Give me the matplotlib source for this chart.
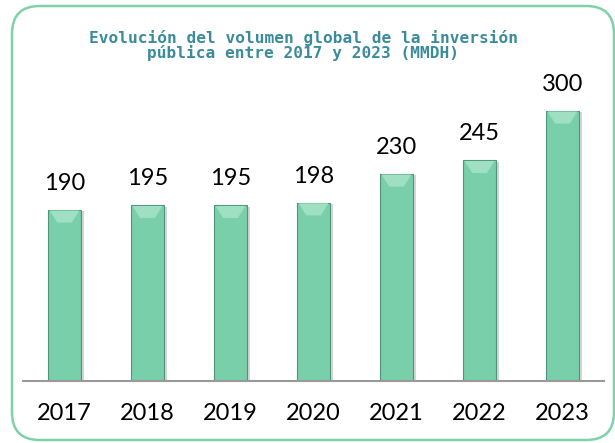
import matplotlib.pyplot as plt
from matplotlib.patches import FancyBboxPatch, Polygon
import matplotlib.patheffects as pe

# Data
years = ["2017", "2018", "2019", "2020", "2021", "2022", "2023"]
values = [190, 195, 195, 198, 230, 245, 300]

title = "Evolución del volumen global de la inversión\npública entre 2017 y 2023 (MMDH)"

fig = plt.figure(figsize=(6.15, 4.43), dpi=100)

# rounded frame round the whole chart
frame = FancyBboxPatch(
    (12 / 615, 3 / 443), 602 / 615, 434 / 443,
    boxstyle="round,pad=0,rounding_size=0.045",
    transform=fig.transFigure,
    facecolor="white", edgecolor="#7dd3a8", linewidth=1.8,
    mutation_aspect=615 / 443, zorder=-5,
)
fig.patches.append(frame)

ax = fig.add_axes([23 / 615, 62 / 443, 581 / 615, 306 / 443])
ax.set_facecolor("none")
ax.set_zorder(2)

x = range(len(years))
bars = ax.bar(
    x, values, width=0.4,
    color="#78cfa9", edgecolor="#4f957a", linewidth=0.8,
    zorder=3,
)
for b in bars:
    b.set_path_effects([
        pe.SimplePatchShadow(offset=(2, -1), shadow_rgbFace="#888888", alpha=0.35),
        pe.Normal(),
    ])

# bevel highlight on top of each bar
for b, v in zip(bars, values):
    x0 = b.get_x()
    w = b.get_width()
    d = 14
    bevel = Polygon(
        [(x0 + 0.02, v - 0.5), (x0 + w - 0.02, v - 0.5),
         (x0 + w * 0.72, v - d), (x0 + w * 0.28, v - d)],
        closed=True, facecolor="#9fe0c2", edgecolor="none", zorder=4,
    )
    ax.add_patch(bevel)
    ax.text(b.get_x() + w / 2, v + 18, str(v),
            ha="center", va="bottom", fontsize=17,
            family="Lato", color="black")

ax.set_xlim(-0.5, len(years) - 0.5)
ax.set_ylim(0, 340)
ax.set_xticks(list(x))
ax.set_xticklabels(years, fontsize=17, family="Lato")
ax.tick_params(axis="x", length=0, pad=16)
ax.set_yticks([])
for s in ["top", "right", "left"]:
    ax.spines[s].set_visible(False)
ax.spines["bottom"].set_color("#999999")
ax.spines["bottom"].set_linewidth(1.5)
ax.spines["bottom"].set_zorder(5)

fig.text(0.493, 0.897, title, ha="center", va="center",
         fontsize=11.6, family="DejaVu Sans Mono", fontweight="bold",
         color="#3a8c9c", linespacing=0.95)

plt.savefig("out.png", dpi=100)
